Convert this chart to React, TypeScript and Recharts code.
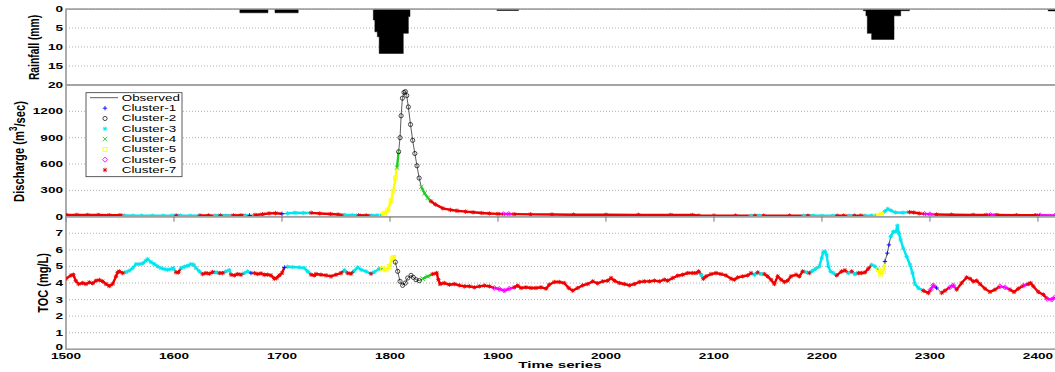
import React from 'react';
import { ComposedChart, Line, Area, XAxis, YAxis, CartesianGrid, ReferenceArea } from 'recharts';

// ---------- data ----------
const X_MIN = 1500;
const X_MAX = 2416.7;
const xTicks = [1500, 1600, 1700, 1800, 1900, 2000, 2100, 2200, 2300, 2400];

const rainTime = [1500, 1661, 1687, 1693.5, 1715, 1784.6, 1786, 1788.3, 1790, 1812.3, 1817, 1818.5, 1899, 1919, 2238.3, 2240.7, 2242, 2246, 2266.7, 2272.9, 2281, 2409.5, 2416.7];
const rainValue = [0, 1, 0, 1, 0, 2.9, 6, 7.3, 11.7, 6.4, 2, 0, 0.4, 0, 0.45, 1.8, 6.4, 8, 1.8, 0.45, 0, 0.5, 0.5];
const rainTicks = [0, 5, 10, 15, 20];

const qTime = [1500, 1510, 1520, 1530, 1540, 1550, 1554, 1562, 1570, 1580, 1590, 1598, 1602, 1606, 1615, 1624, 1632, 1638, 1643, 1648, 1655, 1662, 1666, 1670, 1675, 1682, 1688, 1694, 1700, 1705, 1712, 1720, 1727, 1735, 1745, 1752, 1758, 1765, 1771, 1778, 1783, 1788, 1792, 1795, 1798, 1801, 1803, 1805, 1806.5, 1808, 1809.3, 1810.3, 1811.5, 1813, 1814.2, 1815.5, 1817, 1819, 1821, 1823, 1825, 1827, 1829, 1832, 1835, 1838, 1842, 1849, 1856, 1862, 1870, 1877, 1885, 1892, 1900, 1905, 1910, 1915, 1930, 1950, 1970, 2000, 2030, 2060, 2080, 2086, 2100, 2120, 2134, 2138, 2142, 2146, 2170, 2183, 2187, 2192, 2200, 2210, 2214, 2220, 2225, 2230, 2236, 2240, 2246, 2250, 2255, 2258, 2261, 2264, 2268, 2275, 2281, 2285, 2290, 2295, 2300, 2306, 2320, 2340, 2352, 2356, 2362, 2380, 2398, 2402, 2416];
const qValue = [20, 20, 19, 19, 18, 18, 14, 12, 12, 11, 11, 12, 14, 12, 11, 13, 14, 12, 14, 12, 15, 16, 14, 15, 20, 28, 38, 40, 33, 38, 45, 43, 44, 37, 30, 25, 20, 18, 16, 15, 14, 15, 19, 40, 76, 180, 285, 440, 560, 740, 900, 1150, 1350, 1415, 1425, 1380, 1250, 1050, 870, 720, 580, 440, 340, 266, 215, 175, 140, 95, 78, 68, 58, 50, 42, 37, 32, 30, 30, 29, 27, 25, 23, 22, 21, 20, 19, 13, 12, 12, 11, 12, 11, 12, 12, 11, 12, 10, 10, 11, 12, 12, 11, 12, 12, 11, 12, 15, 28, 60, 88, 70, 48, 46, 52, 48, 38, 32, 28, 25, 22, 20, 19, 19, 19, 18, 17, 16, 15];
const qCluster = [7, 7, 7, 7, 7, 7, 3, 3, 3, 3, 3, 3, 7, 3, 3, 7, 7, 3, 7, 3, 7, 7, 3, 1, 7, 7, 7, 7, 1, 3, 3, 3, 7, 7, 7, 7, 3, 3, 7, 7, 3, 3, 5, 5, 5, 5, 5, 5, 4, 2, 2, 2, 2, 2, 2, 2, 2, 2, 2, 2, 2, 2, 4, 4, 4, 7, 7, 7, 7, 7, 7, 7, 7, 7, 7, 6, 6, 7, 7, 7, 7, 7, 7, 7, 7, 7, 7, 7, 3, 7, 3, 7, 7, 3, 7, 3, 3, 3, 7, 7, 3, 7, 7, 3, 3, 5, 5, 3, 3, 3, 3, 3, 7, 7, 7, 6, 6, 7, 7, 7, 7, 6, 7, 7, 7, 6, 6];
const qTicks = [0, 300, 600, 900, 1200];

const tocTime = [1500, 1504.6, 1506.8, 1509, 1511.7, 1515.4, 1518.5, 1521.6, 1524.7, 1527.8, 1530.9, 1534, 1537, 1540.1, 1543.2, 1546.3, 1547.8, 1549.4, 1552.5, 1555.6, 1558.6, 1561.7, 1564.8, 1567.9, 1571, 1574, 1575.6, 1578.7, 1581.8, 1584.9, 1588, 1591, 1594.1, 1597.2, 1599.4, 1601.9, 1604, 1606.5, 1609.6, 1612.7, 1615.7, 1618.2, 1620.4, 1623.5, 1626.5, 1629.6, 1632.7, 1635.8, 1638.9, 1642, 1645, 1648.1, 1651.2, 1652.8, 1655.9, 1659, 1662, 1665.1, 1668.2, 1671.3, 1674.4, 1677.5, 1680.6, 1683.6, 1686.7, 1689.8, 1692.9, 1695, 1697.5, 1700, 1702.2, 1705.2, 1709.9, 1716, 1720.7, 1723.8, 1726.9, 1729.9, 1731.5, 1736.1, 1740.8, 1745.4, 1750, 1754.6, 1757.7, 1760.8, 1763.9, 1767, 1770.1, 1773.2, 1777.8, 1782.4, 1785.5, 1790.1, 1793.2, 1796.3, 1799.4, 1801.9, 1803.4, 1804.9, 1807.1, 1809.3, 1811.7, 1814.2, 1816.4, 1819.5, 1821.6, 1824.1, 1827.2, 1830.3, 1834.9, 1839.5, 1843.2, 1844.8, 1846.3, 1850.3, 1855, 1859.6, 1864.2, 1868.8, 1873.5, 1878.1, 1882.7, 1887.4, 1892, 1896.6, 1901.2, 1905.9, 1910.5, 1915.1, 1918.2, 1921.3, 1925.9, 1930.6, 1935.2, 1939.8, 1944.5, 1947.5, 1952.2, 1956.8, 1961.4, 1965.5, 1969.2, 1973.8, 1978.4, 1983.1, 1987.7, 1992.3, 1997, 2001.6, 2004.7, 2007.8, 2012.4, 2017, 2021.6, 2026.3, 2030.9, 2035.5, 2040.2, 2044.8, 2049.4, 2054, 2057.1, 2061.8, 2066.4, 2071, 2075.7, 2080.3, 2083.4, 2085.8, 2088, 2090.2, 2092.6, 2097.3, 2101.9, 2106.5, 2111.1, 2115.8, 2118.9, 2122, 2126.6, 2131.2, 2134.3, 2137.4, 2140.5, 2143.6, 2146.6, 2149.7, 2152.8, 2155.9, 2159, 2162.1, 2165.2, 2168.2, 2171.3, 2176, 2179, 2182.1, 2185.2, 2188.3, 2191.4, 2194, 2197.5, 2199.7, 2201.2, 2202.8, 2204.3, 2205.9, 2208, 2210.5, 2213.6, 2218.2, 2221.3, 2224.4, 2227.5, 2230.6, 2233.7, 2236.7, 2239.8, 2242.9, 2246, 2249.1, 2252.2, 2254.3, 2256.8, 2258.3, 2260.5, 2262, 2263.6, 2266.1, 2268.5, 2269.8, 2271.3, 2272.8, 2275.3, 2278.4, 2281.5, 2283.9, 2286.1, 2289.2, 2293.8, 2298.5, 2300.6, 2303.1, 2306.2, 2310.8, 2313.9, 2318.5, 2321.6, 2324.7, 2329.3, 2334, 2337.1, 2340.1, 2343.2, 2346.3, 2350.9, 2355.6, 2360.2, 2364.8, 2369.5, 2374.1, 2377.8, 2381.8, 2386.4, 2391.1, 2393.2, 2395.7, 2400.3, 2405, 2408.6, 2412.7, 2415.7];
const tocValue = [4.26, 4.46, 4.5, 4.14, 3.94, 4.0, 3.94, 4.04, 3.98, 4.14, 4.18, 4.1, 3.94, 3.82, 3.94, 4.4, 4.64, 4.7, 4.6, 4.66, 4.74, 4.9, 5.14, 5.14, 5.18, 5.34, 5.44, 5.26, 5.14, 5.0, 4.9, 4.84, 4.8, 4.84, 4.9, 4.64, 4.64, 4.9, 4.98, 5.04, 5.14, 5.1, 4.9, 4.7, 4.54, 4.6, 4.56, 4.66, 4.64, 4.6, 4.6, 4.7, 4.78, 4.5, 4.46, 4.54, 4.5, 4.6, 4.7, 4.6, 4.6, 4.54, 4.58, 4.5, 4.5, 4.46, 4.26, 4.3, 4.46, 4.6, 4.94, 4.98, 4.96, 4.94, 4.9, 4.7, 4.5, 4.46, 4.54, 4.5, 4.46, 4.4, 4.5, 4.6, 4.76, 4.6, 4.56, 4.74, 4.94, 4.8, 4.7, 4.56, 4.66, 4.86, 4.86, 4.8, 5.0, 5.46, 5.54, 5.26, 4.7, 4.1, 3.86, 4.0, 4.3, 4.46, 4.34, 4.2, 4.14, 4.26, 4.4, 4.54, 4.6, 4.2, 3.94, 4.0, 3.9, 3.94, 3.86, 3.8, 3.8, 3.74, 3.8, 3.84, 3.8, 3.7, 3.64, 3.54, 3.66, 3.74, 3.84, 3.7, 3.74, 3.7, 3.7, 3.74, 3.66, 3.9, 4.06, 4.06, 4.0, 3.7, 3.54, 3.7, 3.86, 3.94, 4.1, 3.98, 4.1, 4.14, 4.3, 4.14, 4.0, 3.94, 3.86, 3.94, 4.06, 4.1, 4.1, 4.14, 4.1, 4.2, 4.14, 4.3, 4.44, 4.5, 4.6, 4.6, 4.6, 4.7, 4.5, 4.26, 4.4, 4.54, 4.6, 4.54, 4.46, 4.26, 4.2, 4.34, 4.4, 4.46, 4.6, 4.5, 4.64, 4.54, 4.54, 4.4, 4.2, 3.94, 4.4, 4.2, 4.06, 4.14, 4.4, 4.5, 4.4, 4.7, 4.66, 4.6, 4.74, 4.85, 5.0, 5.5, 5.86, 5.9, 5.7, 5.0, 4.7, 4.6, 4.46, 4.7, 4.76, 4.6, 4.7, 4.54, 4.6, 4.6, 4.64, 4.86, 5.1, 5.0, 4.8, 4.54, 4.7, 5.3, 5.8, 6.3, 6.8, 7.1, 7.1, 7.46, 7.0, 6.6, 6.1, 5.6, 5.1, 4.6, 3.94, 3.7, 3.54, 3.4, 3.6, 3.86, 3.7, 3.4, 3.54, 3.74, 3.86, 3.6, 4.0, 4.34, 4.26, 4.1, 4.14, 3.94, 3.66, 3.46, 3.6, 3.8, 3.74, 3.6, 3.46, 3.66, 3.84, 3.94, 4.0, 3.8, 3.46, 3.3, 3.04, 3.0, 3.14];
const tocCluster = [7, 7, 7, 7, 7, 7, 7, 7, 7, 7, 7, 7, 7, 7, 7, 7, 7, 7, 7, 3, 3, 3, 3, 3, 3, 3, 3, 3, 3, 3, 3, 3, 3, 3, 3, 7, 7, 3, 3, 3, 3, 3, 3, 3, 7, 7, 7, 7, 3, 7, 7, 3, 3, 7, 7, 7, 7, 3, 3, 1, 7, 7, 7, 7, 7, 7, 7, 7, 7, 7, 1, 3, 3, 3, 3, 3, 7, 7, 7, 7, 7, 7, 7, 7, 3, 7, 7, 3, 3, 3, 3, 7, 3, 3, 5, 5, 5, 5, 5, 2, 2, 2, 2, 2, 2, 2, 2, 2, 2, 4, 4, 7, 7, 7, 7, 7, 7, 7, 7, 7, 7, 7, 7, 7, 7, 6, 6, 6, 6, 7, 7, 7, 7, 7, 7, 7, 7, 7, 7, 7, 7, 7, 7, 7, 7, 7, 7, 7, 7, 7, 7, 7, 7, 7, 7, 7, 7, 7, 7, 7, 7, 7, 7, 7, 7, 7, 7, 7, 7, 7, 3, 7, 7, 7, 7, 7, 7, 7, 7, 7, 7, 7, 7, 3, 7, 3, 7, 7, 7, 7, 7, 7, 7, 7, 7, 7, 7, 7, 3, 7, 3, 3, 3, 3, 3, 3, 3, 3, 3, 3, 7, 7, 7, 3, 7, 3, 7, 7, 7, 7, 3, 3, 5, 5, 5, 1, 1, 1, 3, 3, 3, 3, 3, 3, 3, 3, 3, 3, 3, 3, 7, 7, 6, 6, 1, 7, 7, 6, 6, 7, 7, 7, 7, 7, 7, 7, 7, 7, 7, 6, 6, 7, 7, 7, 6, 7, 7, 7, 7, 7, 6, 6, 6, 6, 6];
const tocTicks = [0, 1, 2, 3, 4, 5, 6, 7];

const legendObserved = 'Observed';
const clusterIds = [1, 2, 3, 4, 5, 6, 7];
const clusterNames = ['Cluster-1', 'Cluster-2', 'Cluster-3', 'Cluster-4', 'Cluster-5', 'Cluster-6', 'Cluster-7'];
const clusterColors = ['#0000ff', '#000000', '#00e5ee', '#22cc22', '#ffff00', '#ff00ff', '#ee0000'];
const clusterMarkers = ['plus', 'circle', 'star', 'cross', 'square', 'diamond', 'star'];
const clusterBand = [false, false, true, true, true, true, true];

// ---------- helpers ----------
const FONT = 'Liberation Sans, Arial, Helvetica, sans-serif';
const SX = 1.6;

function buildRows(time: number[], value: number[], cluster: number[]) {
  return time.map((t, i) => {
    const row: any = { t, v: value[i], c: cluster[i] };
    clusterIds.forEach((k) => {
      const on = cluster[i] === k || (i > 0 && cluster[i - 1] === k);
      row['k' + k] = on ? value[i] : null;
    });
    return row;
  });
}

const rainRows = rainTime.map((t, i) => ({ t, r: rainValue[i] }));
const qRows = buildRows(qTime, qValue, qCluster);
const tocRows = buildRows(tocTime, tocValue, tocCluster);

function Marker({ type, cx, cy, color }: { type: string; cx: number; cy: number; color: string }) {
  const s = 2.2;
  const sw = 0.9;
  if (type === 'plus')
    return <path d={`M${cx - s},${cy}H${cx + s}M${cx},${cy - s}V${cy + s}`} stroke={color} strokeWidth={sw} fill="none" />;
  if (type === 'circle') return <circle cx={cx} cy={cy} r={2.1} stroke={color} strokeWidth={0.7} fill="none" />;
  if (type === 'cross')
    return <path d={`M${cx - s},${cy - s}L${cx + s},${cy + s}M${cx - s},${cy + s}L${cx + s},${cy - s}`} stroke={color} strokeWidth={sw} fill="none" />;
  if (type === 'square') return <rect x={cx - 2} y={cy - 2} width={4} height={4} stroke={color} strokeWidth={sw} fill="none" />;
  if (type === 'diamond')
    return <path d={`M${cx},${cy - 2.5}L${cx + 2.5},${cy}L${cx},${cy + 2.5}L${cx - 2.5},${cy}Z`} stroke={color} strokeWidth={sw} fill="none" />;
  const d = s * 0.75;
  return (
    <path
      d={`M${cx - s},${cy}H${cx + s}M${cx},${cy - s}V${cy + s}M${cx - d},${cy - d}L${cx + d},${cy + d}M${cx - d},${cy + d}L${cx + d},${cy - d}`}
      stroke={color}
      strokeWidth={sw}
      fill="none"
    />
  );
}

const makeDot = (k: number) => (props: any) => {
  const { cx, cy, payload, index } = props;
  if (!payload || payload.c !== k || cx == null || cy == null || isNaN(cx) || isNaN(cy)) return <g key={`d${k}-${index}`} />;
  return (
    <g key={`d${k}-${index}`}>
      <Marker type={clusterMarkers[k - 1]} cx={cx} cy={cy} color={clusterColors[k - 1]} />
    </g>
  );
};

const STxt = ({ x, y, children, size = 8.5, weight = 'bold', anchor = 'middle' }: any) => (
  <text
    transform={`translate(${x},${y}) scale(${SX},1)`}
    textAnchor={anchor}
    dominantBaseline="central"
    fontSize={size}
    fontWeight={weight}
    fontFamily={FONT}
    fill="#000"
  >
    {children}
  </text>
);

const yTick = (p: any) => (
  <g>
    <STxt x={p.x} y={p.y} anchor="end">
      {p.payload.value}
    </STxt>
  </g>
);
// bottom panel: the "0" label sits right above the first time label, lift it a little
const yTickToc = (p: any) => (
  <g>
    <STxt x={p.x} y={p.payload.value === 0 ? p.y - 2.5 : p.y} anchor="end">
      {p.payload.value}
    </STxt>
  </g>
);
const xTick = (p: any) => (
  <g>
    <STxt x={p.x} y={p.y + 7} anchor="middle">
      {p.payload.value}
    </STxt>
  </g>
);
const noTick = () => <g />;

const W = 1060;
const H = 372;
const BORDER = '#a0a0a0';
const GRID = '#b0b0b0';

function clusterLines() {
  const order = [7, 6, 3, 4, 5, 1, 2];
  return order.map((k) => (
    <Line
      key={'c' + k}
      dataKey={'k' + k}
      type="linear"
      stroke={clusterBand[k - 1] ? clusterColors[k - 1] : 'none'}
      strokeWidth={2.4}
      dot={makeDot(k)}
      activeDot={false}
      connectNulls={false}
      isAnimationActive={false}
    />
  ));
}

export default function App() {
  return (
    <div style={{ position: 'absolute', left: 0, top: 0, width: 1055, height: 372, overflow: 'hidden', background: '#fff' }}>
      {/* Rainfall */}
      <div style={{ position: 'absolute', left: 0, top: 0 }}>
        <ComposedChart width={W} height={H} data={rainRows} margin={{ top: 9, right: 4, bottom: 287, left: 0 }}>
          <CartesianGrid horizontal vertical={false} stroke={GRID} strokeDasharray="1 2" />
          <XAxis type="number" dataKey="t" domain={[X_MIN, X_MAX]} allowDataOverflow hide />
          <YAxis type="number" domain={[0, 20]} reversed ticks={rainTicks} interval={0} width={66} tick={yTick} tickSize={0} tickMargin={3} axisLine={{ stroke: BORDER }} tickLine={false} allowDataOverflow />
          <YAxis yAxisId="r" orientation="right" mirror type="number" domain={[0, 20]} reversed ticks={rainTicks} interval={0} width={0} tick={noTick} tickSize={8} tickLine={{ stroke: BORDER }} axisLine={false} />
          <Area type="stepAfter" dataKey="r" baseValue={0} stroke="#000" strokeWidth={0.5} fill="#000" fillOpacity={1} isAnimationActive={false} />
          <ReferenceArea x1={X_MIN} x2={X_MAX} y1={0} y2={20} fill="none" stroke={BORDER} strokeWidth={1.5} />
        </ComposedChart>
      </div>
      {/* Discharge */}
      <div style={{ position: 'absolute', left: 0, top: 0 }}>
        <ComposedChart width={W} height={H} data={qRows} margin={{ top: 85, right: 4, bottom: 155.3, left: 0 }}>
          <CartesianGrid horizontal vertical={false} stroke={GRID} strokeDasharray="1 2" />
          <XAxis type="number" dataKey="t" domain={[X_MIN, X_MAX]} allowDataOverflow hide />
          <YAxis type="number" domain={[0, 1500]} ticks={qTicks} interval={0} width={66} tick={yTick} tickSize={0} tickMargin={3} axisLine={{ stroke: BORDER }} tickLine={false} allowDataOverflow />
          <YAxis yAxisId="r" orientation="right" mirror type="number" domain={[0, 1500]} ticks={qTicks} interval={0} width={0} tick={noTick} tickSize={8} tickLine={{ stroke: BORDER }} axisLine={false} />
          <ReferenceArea x1={X_MIN} x2={X_MAX} y1={0} y2={1500} fill="none" stroke={BORDER} strokeWidth={1.5} />
          <Line dataKey="v" type="linear" stroke="#333" strokeWidth={0.8} dot={false} activeDot={false} isAnimationActive={false} />
          {clusterLines()}
        </ComposedChart>
      </div>
      {/* TOC */}
      <div style={{ position: 'absolute', left: 0, top: 0 }}>
        <ComposedChart width={W} height={H} data={tocRows} margin={{ top: 216.7, right: 4, bottom: 0, left: 0 }}>
          <CartesianGrid horizontal vertical={false} stroke={GRID} strokeDasharray="1 2" />
          <XAxis type="number" dataKey="t" domain={[X_MIN, X_MAX]} allowDataOverflow ticks={xTicks} interval={0} height={22.7} tick={xTick} tickSize={0} tickMargin={0} axisLine={{ stroke: BORDER }} tickLine={false} />
          <XAxis xAxisId="top" orientation="top" mirror type="number" dataKey="t" domain={[X_MIN, X_MAX]} allowDataOverflow ticks={xTicks} interval={0} tick={noTick} tickSize={5} tickLine={{ stroke: '#777' }} axisLine={false} />
          <YAxis type="number" domain={[0, 8]} ticks={tocTicks} interval={0} width={66} tick={yTickToc} tickSize={0} tickMargin={3} axisLine={{ stroke: BORDER }} tickLine={false} allowDataOverflow />
          <YAxis yAxisId="r" orientation="right" mirror type="number" domain={[0, 8]} ticks={tocTicks} interval={0} width={0} tick={noTick} tickSize={8} tickLine={{ stroke: BORDER }} axisLine={false} />
          <ReferenceArea x1={X_MIN} x2={X_MAX} y1={0} y2={8} fill="none" stroke={BORDER} strokeWidth={1.5} />
          <Line dataKey="v" type="linear" stroke="#333" strokeWidth={0.8} dot={false} activeDot={false} isAnimationActive={false} />
          {clusterLines()}
        </ComposedChart>
      </div>
      {/* titles and legend */}
      <svg width={1055} height={372} style={{ position: 'absolute', left: 0, top: 0, pointerEvents: 'none' }}>
        <text transform="translate(34,47.5) rotate(-90) scale(1,1.35)" textAnchor="middle" dominantBaseline="central" fontSize={10.3} fontWeight="bold" fontFamily={FONT}>
          Rainfall (mm)
        </text>
        <text transform="translate(19,151.5) rotate(-90) scale(1,1.35)" textAnchor="middle" dominantBaseline="central" fontSize={11.2} fontWeight="bold" fontFamily={FONT}>
          Discharge (m<tspan dy={-4.5} fontSize={8}>3</tspan>
          <tspan dy={4.5}>/sec)</tspan>
        </text>
        <text transform="translate(42.5,283) rotate(-90) scale(1,1.35)" textAnchor="middle" dominantBaseline="central" fontSize={11} fontWeight="bold" fontFamily={FONT}>
          TOC (mg/L)
        </text>
        <STxt x={560} y={365.5} size={9.5}>
          Time series
        </STxt>
        <g>
          <rect x={86} y={92.7} width={96} height={84} fill="#fff" stroke="#333" strokeWidth={0.8} />
          <line x1={90} x2={118} y1={97.7} y2={97.7} stroke="#333" strokeWidth={0.8} />
          <STxt x={121.7} y={97.7} size={8.4} weight="normal" anchor="start">
            {legendObserved}
          </STxt>
          {clusterIds.map((k, i) => {
            const y = 108.2 + i * 10.3;
            return (
              <g key={k}>
                <Marker type={clusterMarkers[i]} cx={105} cy={y} color={clusterColors[i]} />
                <STxt x={121.7} y={y} size={8.4} weight="normal" anchor="start">
                  {clusterNames[i]}
                </STxt>
              </g>
            );
          })}
        </g>
      </svg>
    </div>
  );
}
